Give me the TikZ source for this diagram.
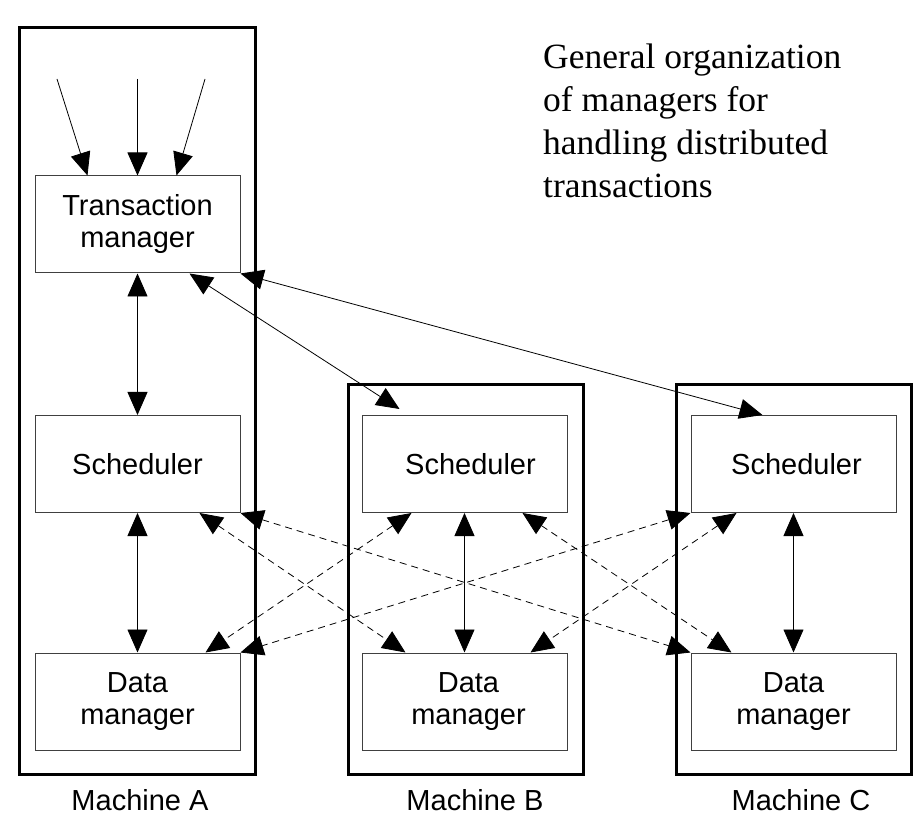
\documentclass[tikz,border=0pt]{standalone}
\usepackage{fontspec}
\setmainfont{Liberation Serif}
\setsansfont{Liberation Sans}
\usetikzlibrary{arrows.meta}

\tikzset{
  machine/.style={draw, line width=3pt},
  mgr/.style={draw=black!75, line width=1pt, minimum width=205pt, minimum height=97pt,
    inner sep=0pt, align=center, font=\sffamily\fontsize{29}{32}\selectfont},
  lbl/.style={font=\sffamily\fontsize{29}{32}\selectfont, inner sep=0pt},
  heading/.style={font=\fontsize{35.5}{43}\selectfont, align=left, inner sep=0pt},
  tip/.tip={Triangle[length=23pt,width=20pt]},
  req/.style={line width=0.8pt, -tip},
  link/.style={line width=0.8pt, tip-tip},
  rlink/.style={link, dash pattern=on 7pt off 5pt}
}

\begin{document}
\begin{tikzpicture}[x=1pt,y=-1pt]
  \useasboundingbox (0,0) rectangle (922,826);
  % Machine frames
  \draw[machine] (19,28) rectangle (255,774);
  \draw[machine] (348,385) rectangle (583,774);
  \draw[machine] (676,385) rectangle (911,774);
  % Managers
  \node[mgr] (tm) at (137.5,224.5) {Transaction\\manager};
  \node[mgr] (schA) at (137.5,464) {Scheduler};
  \node[mgr] (dmA) at (137.5,701.5) {Data\\manager};
  \node[mgr] (schB) at (464.5,464) {\hspace*{12pt}Scheduler};
  \node[mgr] (dmB) at (464.5,701.5) {\hspace*{8pt}Data\\\hspace*{8pt}manager};
  \node[mgr] (schC) at (793.5,464) {\hspace*{6pt}Scheduler};
  \node[mgr] (dmC) at (793.5,701.5) {Data\\manager};
  % Machine names
  \node[lbl] (labA) at (140,800) {Machine A};
  \node[lbl] (labB) at (475,800) {Machine B};
  \node[lbl] (labC) at (801,800) {Machine C};
  % Title
  \node[heading, anchor=north west] (title) at (543,44)
    {General organization\\of managers for\\handling distributed\\transactions};
  % Incoming requests
  \coordinate (in1) at (57,79);
  \coordinate (in2) at (137.5,79);
  \coordinate (in3) at (205,79);
  \draw[req] (in1) -- ([xshift=-50pt]tm.north);
  \draw[req] (in2) -- (tm.north);
  \draw[req] (in3) -- ([xshift=39pt]tm.north);
  % Transaction manager to schedulers
  \draw[link] (tm.south) -- (schA.north);
  \draw[link] ([xshift=52pt]tm.south) -- ([xshift=-65pt,yshift=6pt]schB.north);
  \draw[link] (tm.south east) -- ([xshift=-31pt]schC.north);
  % Scheduler to local data manager
  \draw[link] (schA.south) -- (dmA.north);
  \draw[link] (schB.south) -- (dmB.north);
  \draw[link] (schC.south) -- (dmC.north);
  % Scheduler to remote data managers
  \draw[rlink] ([xshift=62pt]schA.south) -- ([xshift=-59pt]dmB.north);
  \draw[rlink] ([xshift=-53pt]schB.south) -- ([xshift=68pt]dmA.north);
  \draw[rlink] (schA.south east) -- (dmC.north west);
  \draw[rlink] (schC.south west) -- (dmA.north east);
  \draw[rlink] ([xshift=58pt]schB.south) -- ([xshift=-62pt]dmC.north);
  \draw[rlink] ([xshift=-57pt]schC.south) -- ([xshift=66pt]dmB.north);
\end{tikzpicture}
\end{document}
